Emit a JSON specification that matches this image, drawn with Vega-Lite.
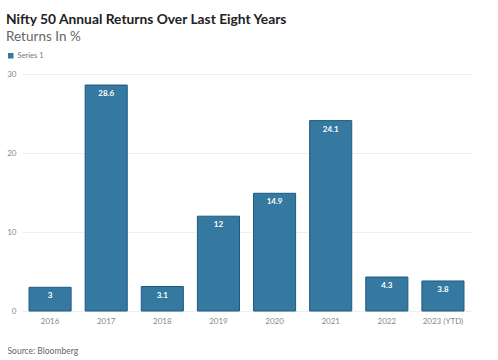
{
  "$schema": "https://vega.github.io/schema/vega-lite/v6.json",
  "autosize": "none",
  "width": 449,
  "height": 237,
  "padding": {"left": 22, "top": 74, "right": 27, "bottom": 49},
  "background": "white",
  "title": {
    "text": "Nifty 50 Annual Returns Over Last Eight Years",
    "subtitle": "Returns In %",
    "anchor": "start",
    "frame": "group",
    "dx": -16,
    "offset": 9,
    "font": "Lato",
    "fontSize": 13.8,
    "fontWeight": "bold",
    "color": "#222222",
    "subtitleFont": "Lato",
    "subtitleFontSize": 13.5,
    "subtitleColor": "#666666",
    "subtitlePadding": 3
  },
  "data": {
    "values": [
      {"year": "2016", "value": 3, "series": "Series 1"},
      {"year": "2017", "value": 28.6, "series": "Series 1"},
      {"year": "2018", "value": 3.1, "series": "Series 1"},
      {"year": "2019", "value": 12, "series": "Series 1"},
      {"year": "2020", "value": 14.9, "series": "Series 1"},
      {"year": "2021", "value": 24.1, "series": "Series 1"},
      {"year": "2022", "value": 4.3, "series": "Series 1"},
      {"year": "2023 (YTD)", "value": 3.8, "series": "Series 1"}
    ]
  },
  "encoding": {
    "x": {
      "field": "year",
      "type": "nominal",
      "sort": null,
      "scale": {"paddingInner": 0.25, "paddingOuter": 0.125},
      "axis": {
        "title": "Source: Bloomberg",
        "titleAnchor": "start",
        "titleAlign": "left",
        "titleX": -15,
        "titleY": 35,
        "titleFont": "Lato",
        "titleFontSize": 8.5,
        "titleFontWeight": "normal",
        "titleColor": "#666666",
        "labelAngle": 0,
        "labelFont": "Lato",
        "labelFontSize": 8,
        "labelColor": "#888888",
        "labelPadding": 6,
        "ticks": false,
        "domain": false
      }
    },
    "y": {
      "field": "value",
      "type": "quantitative",
      "scale": {"domain": [0, 30], "nice": false},
      "axis": {
        "title": null,
        "values": [0, 10, 20, 30],
        "labelFont": "Lato",
        "labelFontSize": 8,
        "labelColor": "#888888",
        "labelPadding": 6,
        "ticks": false,
        "domain": false,
        "gridColor": "#eeeeee",
        "gridWidth": 1
      }
    }
  },
  "layer": [
    {
      "mark": {"type": "bar", "stroke": "#1d5a82", "strokeWidth": 1},
      "encoding": {
        "color": {
          "field": "series",
          "type": "nominal",
          "scale": {"range": ["#3579a1"]},
          "legend": {
            "title": null,
            "orient": "none",
            "legendX": -15,
            "legendY": -22,
            "symbolType": "square",
            "symbolSize": 30,
            "symbolStrokeWidth": 0,
            "labelFont": "Lato",
            "labelFontSize": 7.5,
            "labelColor": "#777777",
            "labelOffset": 3
          }
        }
      }
    },
    {
      "mark": {"type": "text", "color": "white", "font": "Lato", "fontSize": 8, "fontWeight": "bold", "baseline": "middle", "dy": 9},
      "encoding": {"text": {"field": "value", "type": "quantitative"}}
    }
  ],
  "config": {"view": {"stroke": null}}
}
